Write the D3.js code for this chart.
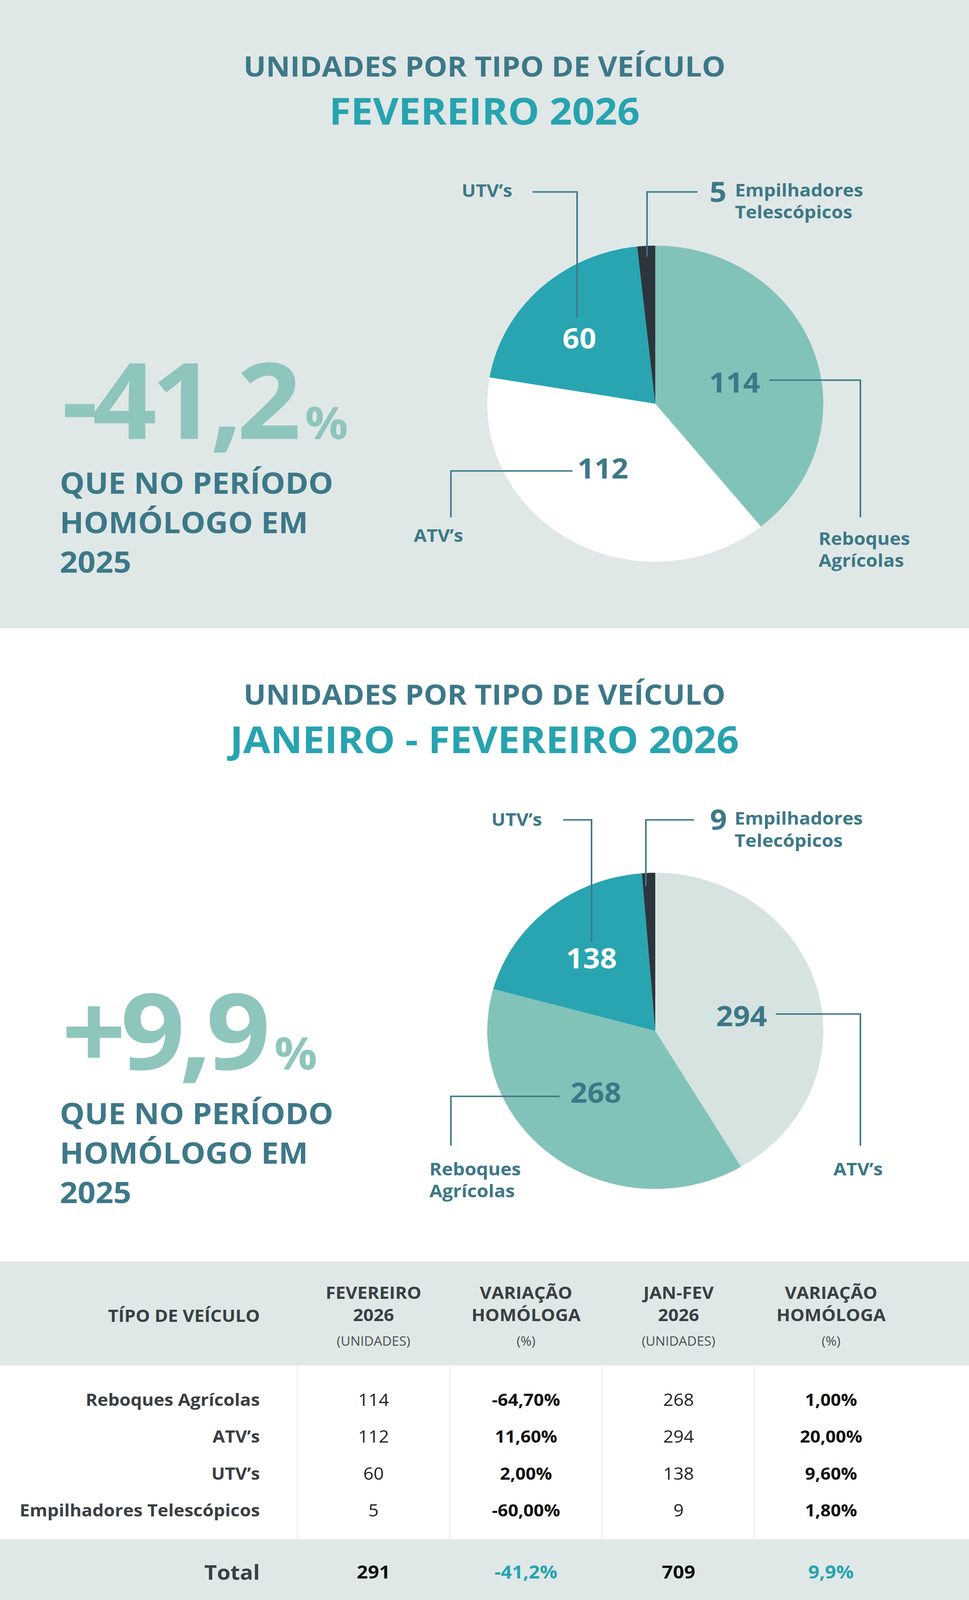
<!DOCTYPE html>
<html>
<head>
<meta charset="utf-8">
<script src="https://cdn.jsdelivr.net/npm/d3@7"></script>
<style>
	html, body { margin: 0; padding: 0; background: #fff; overflow: hidden; }
	svg { display: block; width: 100vw; height: 100vh; }
	text { font-family: "Open Sans", "Noto Sans", sans-serif; }
</style>
</head>
<body>
<svg id="chart"></svg>
<script>
// data
var categories = [ 'Reboques Agrícolas', 'ATV’s', 'UTV’s', 'Empilhadores Telescópicos' ];
var fevUnits = [ 114, 112, 60, 5 ];
var fevVar = [ '-64,70%', '11,60%', '2,00%', '-60,00%' ];
var janFevUnits = [ 268, 294, 138, 9 ];
var janFevVar = [ '1,00%', '20,00%', '9,60%', '1,80%' ];
var totals = [ '291', '-41,2%', '709', '9,9%' ];
var headline = [ '-41,2', '+9,9' ];

var titles = [ 'UNIDADES POR TIPO DE VEÍCULO', 'FEVEREIRO 2026', 'JANEIRO - FEVEREIRO 2026' ];
var subText = [ 'QUE NO PERÍODO', 'HOMÓLOGO EM', '2025' ];
var colHeads = [
	[ 'FEVEREIRO', '2026', '(UNIDADES)' ],
	[ 'VARIAÇÃO', 'HOMÓLOGA', '(%)' ],
	[ 'JAN-FEV', '2026', '(UNIDADES)' ],
	[ 'VARIAÇÃO', 'HOMÓLOGA', '(%)' ]
];

// slice order (index into categories) and labels for the two pies
var fevOrder = [ 0, 1, 2, 3 ];
var janOrder = [ 1, 0, 2, 3 ];
var fevLabels = [ [ 'Reboques', 'Agrícolas' ], [ 'ATV’s' ], [ 'UTV’s' ], [ 'Empilhadores', 'Telescópicos' ] ];
var janLabels = [ [ 'ATV’s' ], [ 'Reboques', 'Agrícolas' ], [ 'UTV’s' ], [ 'Empilhadores', 'Telecópicos' ] ];

var W = 2480, H = 4352;
var C = {
	band: '#dfe8e6', title: '#3d7888', teal: '#27a3b0', green: '#82c3b9',
	big: '#8ec5bd', dark: '#2c353b', text: '#3a3f44'
};

var svg = d3.select( '#chart' )
	.attr( 'viewBox', '0 0 ' + W + ' ' + H )
	.attr( 'preserveAspectRatio', 'none' );

svg.append( 'rect' ).attr( 'x', 0 ).attr( 'y', 0 ).attr( 'width', W ).attr( 'height', 1709 ).attr( 'fill', C.band );

function header( y, title2 ) {
	svg.append( 'text' ).attr( 'x', W / 2 ).attr( 'y', y )
		.attr( 'text-anchor', 'middle' ).attr( 'font-size', 76 ).attr( 'font-weight', 700 )
		.attr( 'fill', C.title ).text( titles[ 0 ] );
	svg.append( 'text' ).attr( 'x', W / 2 ).attr( 'y', y + 131 )
		.attr( 'text-anchor', 'middle' ).attr( 'font-size', 101 ).attr( 'font-weight', 700 )
		.attr( 'fill', C.teal ).text( title2 );
}

function bigNumber( y, num ) {
	var t = svg.append( 'text' ).attr( 'x', 158 ).attr( 'y', y )
		.attr( 'fill', C.big ).attr( 'font-weight', 700 );
	t.append( 'tspan' ).attr( 'font-size', 288 ).attr( 'letter-spacing', -14 ).text( num );
	t.append( 'tspan' ).attr( 'font-size', 122 ).attr( 'dx', 24 ).text( '%' );
	svg.selectAll( null ).data( subText ).enter().append( 'text' )
		.attr( 'x', 153 ).attr( 'y', function( d, i ) { return y + 149 + i * 107.5; } )
		.attr( 'font-size', 80 ).attr( 'font-weight', 700 ).attr( 'fill', C.title )
		.text( function( d ) { return d; } );
}

// annotation layout, relative to pie centre
var fevAnno = [
	{ v: [ 203, -30, 'middle' ], line: [ [ 292, -64 ], [ 525, -64 ], [ 525, 309 ] ], l: [ 418, 384, 'start' ] },
	{ v: [ -134, 204, 'middle' ], line: [ [ -212, 183 ], [ -523, 183 ], [ -523, 309 ] ], l: [ -618, 376, 'start' ] },
	{ v: [ -194, -150, 'middle' ], line: [ [ -314, -576 ], [ -200, -576 ], [ -200, -234 ] ], l: [ -366, -563, 'end' ] },
	{ v: [ 139, -549, 'start' ], line: [ [ 108, -576 ], [ -21, -576 ], [ -21, -400 ] ], l: [ 204, -564, 'start' ] }
];
var janAnno = [
	{ v: [ 221, -13, 'middle' ], line: [ [ 309, -46 ], [ 525, -46 ], [ 525, 312 ] ], l: [ 456, 393, 'start' ] },
	{ v: [ -152, 195, 'middle' ], line: [ [ -245, 178 ], [ -523, 178 ], [ -523, 312 ] ], l: [ -578, 393, 'start' ] },
	{ v: [ -163, -170, 'middle' ], line: [ [ -236, -574 ], [ -163, -574 ], [ -163, -241 ] ], l: [ -290, -558, 'end' ] },
	{ v: [ 140, -547, 'start' ], line: [ [ 99, -574 ], [ -24, -574 ], [ -24, -394 ] ], l: [ 203, -561, 'start' ] }
];

function drawPie( cx, cy, values, order, colors, labels, anno, valColors ) {
	var g = svg.append( 'g' ).attr( 'transform', 'translate(' + cx + ',' + cy + ')' );
	var pie = d3.pie().sort( null ).value( function( d ) { return d; } );
	var arc = d3.arc().innerRadius( 0 ).outerRadius( 430 );
	var slices = pie( order.map( function( i ) { return values[ i ]; } ) );

	g.selectAll( 'path.slice' ).data( slices ).enter().append( 'path' )
		.attr( 'class', 'slice' ).attr( 'd', arc )
		.attr( 'fill', function( d, i ) { return colors[ i ]; } );

	var line = d3.line();
	g.selectAll( 'path.lead' ).data( anno ).enter().append( 'path' )
		.attr( 'class', 'lead' ).attr( 'd', function( d ) { return line( d.line ); } )
		.attr( 'fill', 'none' ).attr( 'stroke', C.title ).attr( 'stroke-width', 4 );

	g.selectAll( 'text.val' ).data( slices ).enter().append( 'text' )
		.attr( 'class', 'val' )
		.attr( 'x', function( d, i ) { return anno[ i ].v[ 0 ]; } )
		.attr( 'y', function( d, i ) { return anno[ i ].v[ 1 ]; } )
		.attr( 'text-anchor', function( d, i ) { return anno[ i ].v[ 2 ]; } )
		.attr( 'font-size', 76 ).attr( 'font-weight', 700 )
		.attr( 'fill', function( d, i ) { return valColors[ i ]; } )
		.text( function( d ) { return d.data; } );

	labels.forEach( function( lines, i ) {
		var a = anno[ i ].l;
		g.selectAll( null ).data( lines ).enter().append( 'text' )
			.attr( 'x', a[ 0 ] ).attr( 'y', function( d, k ) { return a[ 1 ] + k * 60; } )
			.attr( 'text-anchor', a[ 2 ] )
			.attr( 'font-size', 48 ).attr( 'font-weight', 700 ).attr( 'fill', C.title )
			.text( function( d ) { return d; } );
	} );
}

header( 208, titles[ 1 ] );
bigNumber( 1194, headline[ 0 ] );
drawPie( 1677, 1098, fevUnits, fevOrder, [ C.green, '#ffffff', '#28a5b1', C.dark ], fevLabels, fevAnno,
	[ C.title, C.title, '#ffffff', C.title ] );

header( 1917, titles[ 2 ] );
bigNumber( 2909, headline[ 1 ] );
drawPie( 1677, 2804, janFevUnits, janOrder, [ '#d6e3e0', C.green, '#28a5b1', C.dark ], janLabels, janAnno,
	[ C.title, C.title, '#ffffff', C.title ] );

// table
var tTop = 3431, tHead = 3714, tBody = 4187;
var colX = d3.scalePoint().domain( [ 0, 1, 2, 3 ] ).range( [ 956, 2127 ] );
var rowY = d3.scalePoint().domain( categories ).range( [ 3824, 4125 ] );
var labelRight = 665;

svg.append( 'rect' ).attr( 'x', 0 ).attr( 'y', tTop ).attr( 'width', W ).attr( 'height', tHead - tTop ).attr( 'fill', C.band );
svg.append( 'rect' ).attr( 'x', 0 ).attr( 'y', tBody ).attr( 'width', W ).attr( 'height', H - tBody ).attr( 'fill', C.band );

svg.selectAll( 'line.sep' ).data( [ 0, 1, 2, 3 ] ).enter().append( 'line' )
	.attr( 'class', 'sep' )
	.attr( 'x1', function( d ) { return colX( d ) - 195.5; } )
	.attr( 'x2', function( d ) { return colX( d ) - 195.5; } )
	.attr( 'y1', tHead ).attr( 'y2', tBody )
	.attr( 'stroke', '#e3e7e9' ).attr( 'stroke-width', 2 );

svg.append( 'text' ).attr( 'x', labelRight ).attr( 'y', 3596 ).attr( 'text-anchor', 'end' )
	.attr( 'font-size', 46 ).attr( 'font-weight', 700 ).attr( 'fill', C.text ).text( 'TÍPO DE VEÍCULO' );

colHeads.forEach( function( h, c ) {
	svg.selectAll( null ).data( h ).enter().append( 'text' )
		.attr( 'x', colX( c ) )
		.attr( 'y', function( d, k ) { return [ 3533, 3593, 3660 ][ k ]; } )
		.attr( 'text-anchor', 'middle' )
		.attr( 'font-size', function( d, k ) { return k < 2 ? 46 : 34; } )
		.attr( 'font-weight', function( d, k ) { return k < 2 ? 700 : 400; } )
		.attr( 'fill', function( d, k ) { return k < 2 ? C.text : '#4a4f54'; } )
		.text( function( d ) { return d; } );
} );

svg.selectAll( 'text.rowlab' ).data( categories ).enter().append( 'text' )
	.attr( 'class', 'rowlab' ).attr( 'x', labelRight ).attr( 'y', function( d ) { return rowY( d ); } )
	.attr( 'text-anchor', 'end' ).attr( 'font-size', 46 ).attr( 'font-weight', 700 ).attr( 'fill', C.text )
	.text( function( d ) { return d; } );

var cols = [ fevUnits, fevVar, janFevUnits, janFevVar ];
cols.forEach( function( col, c ) {
	svg.selectAll( null ).data( col ).enter().append( 'text' )
		.attr( 'x', colX( c ) ).attr( 'y', function( d, i ) { return rowY( categories[ i ] ); } )
		.attr( 'text-anchor', 'middle' ).attr( 'font-size', 46 )
		.attr( 'font-weight', c % 2 ? 700 : 400 )
		.attr( 'fill', c % 2 ? '#111' : '#222' )
		.text( function( d ) { return d; } );
} );

svg.append( 'text' ).attr( 'x', labelRight ).attr( 'y', 4297 ).attr( 'text-anchor', 'end' )
	.attr( 'font-size', 56 ).attr( 'font-weight', 700 ).attr( 'fill', C.text ).text( 'Total' );
svg.selectAll( 'text.tot' ).data( totals ).enter().append( 'text' )
	.attr( 'class', 'tot' ).attr( 'x', function( d, i ) { return colX( i ); } ).attr( 'y', 4294 )
	.attr( 'text-anchor', 'middle' ).attr( 'font-size', 50 ).attr( 'font-weight', 700 )
	.attr( 'fill', function( d, i ) { return i % 2 ? C.teal : '#111'; } )
	.text( function( d ) { return d; } );
</script>
</body>
</html>
